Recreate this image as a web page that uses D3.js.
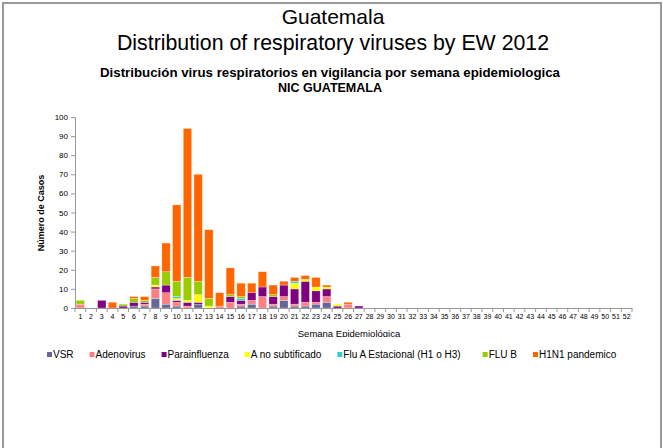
<!DOCTYPE html>
<html><head><meta charset="utf-8">
<script src="https://cdn.jsdelivr.net/npm/d3@7"></script>
<style>body{margin:0;background:#fff}svg{display:block;font-family:"Liberation Sans",Arial,sans-serif}</style>
</head><body>
<script>
const weeks = d3.range(1, 53).map(String);
const seriesNames = ["VSR","Adenovirus","Parainfluenza","A no subtificado","Flu A Estacional (H1 o H3)","FLU B","H1N1 pandemico"];
const seriesColors = ["#666699","#FF8080","#800080","#FFFF00","#33CCCC","#99CC00","#FF6600"];
// values by week 1..27 (rest zero)
const VSR            = [0,0,0,0,0,1,1,5,2,1,0,2,0,0,0,1,2,0,1,4,1,1,2,3,0,0,0];
const Adenovirus     = [2,0,0,0,0,0,1,5,6,2,1,0,0,1,3,1,2,6,1,2,1,2,1,3,0,2,0];
const Parainfluenza  = [0,0,4,0,1,2,1,1,4,1,2,1,0,0,3,2,4,5,4,6,8,11,6,4,1,0,1];
const ANoSubtificado = [0,0,0,0,0,0,0,1,0,1,1,4,1,0,0,0,0,0,0,0,3,1,2,1,1,0,0];
const FluAEstacional = [0,0,0,0,0,0,0,0,0,1,0,0,0,0,0,1,0,0,0,0,1,0,0,0,0,0,0];
const FluB           = [2,0,0,0,1,2,1,4,7,8,12,7,4,0,1,1,0,0,1,0,0,0,0,0,0,0,0];
const H1N1           = [0,0,0,3,0,1,2,6,15,40,78,56,36,7,14,7,5,8,5,2,2,2,5,1,0,1,0];
const yTicks = [0,10,20,30,40,50,60,70,80,90,100];

const seriesArrays = [VSR,Adenovirus,Parainfluenza,ANoSubtificado,FluAEstacional,FluB,H1N1];
const table = weeks.map((w,i)=>{const o={week:w};seriesNames.forEach((s,j)=>o[s]=seriesArrays[j][i]||0);return o;});

const W=663,H=448;
const svg=d3.select("body").append("svg").attr("width",W).attr("height",H);
svg.append("defs").append("clipPath").attr("id","cp").attr("clipPathUnits","userSpaceOnUse").append("rect").attr("x",0).attr("y",0).attr("width",W).attr("height",337);
// frame
svg.append("path").attr("d",`M3,460 V3 H661 V460`).attr("fill","none").attr("stroke","#999").attr("stroke-width",2);

svg.append("text").attr("x",333).attr("y",24).attr("text-anchor","middle").attr("font-size",21).text("Guatemala");
svg.append("text").attr("x",333).attr("y",50).attr("text-anchor","middle").attr("font-size",21.3).text("Distribution of respiratory viruses by EW 2012");
svg.append("text").attr("x",330).attr("y",77).attr("text-anchor","middle").attr("font-size",13).attr("font-weight","bold").attr("textLength",460).attr("lengthAdjust","spacingAndGlyphs").text("Distribución virus respiratorios en vigilancia por semana epidemiologica");
svg.append("text").attr("x",330).attr("y",92).attr("text-anchor","middle").attr("font-size",12.5).attr("font-weight","bold").text("NIC GUATEMALA");

const x=d3.scaleBand().domain(weeks).range([75,632]).paddingInner(0.22).paddingOuter(0.11);
const y=d3.scaleLinear().domain([0,100]).range([308,117]);

const stack=d3.stack().keys(seriesNames)(table);
svg.append("g").selectAll("g").data(stack).join("g").attr("fill",(d,i)=>seriesColors[i])
 .selectAll("rect").data(d=>d.filter(p=>p[1]>p[0])).join("rect")
 .attr("x",p=>x(p.data.week)).attr("width",x.bandwidth())
 .attr("y",p=>y(p[1])).attr("height",p=>y(p[0])-y(p[1]))
 .attr("stroke","#fff").attr("stroke-opacity",0.45).attr("stroke-width",0.6);

// y axis
const ya=svg.append("g").attr("transform","translate(75,0)").call(d3.axisLeft(y).tickValues(yTicks).tickSize(4).tickPadding(3));
ya.selectAll("text").attr("font-size",8).attr("fill","#000").attr("font-family","Liberation Sans, Arial");
ya.selectAll("line,path").attr("stroke","#999");
// x axis
const xa=svg.append("g").attr("transform","translate(0,308)").call(d3.axisBottom(x).tickSize(0).tickPadding(6));
xa.selectAll("text").attr("font-size",7).attr("fill","#000").attr("font-family","Liberation Sans, Arial");
xa.select("path").attr("stroke","#999");
const step=x.step();
xa.selectAll(".tick").append("line").attr("x1",-step/2).attr("x2",-step/2).attr("y1",0).attr("y2",4).attr("stroke","#999");
svg.append("line").attr("x1",632).attr("x2",632).attr("y1",308).attr("y2",312).attr("stroke","#999");

svg.append("text").attr("transform","translate(44,213) rotate(-90)").attr("text-anchor","middle").attr("font-size",9).attr("font-weight","bold").text("Número de Casos");
svg.append("g").attr("clip-path","url(#cp)").append("text").attr("x",349).attr("y",336.5).attr("text-anchor","middle").attr("font-size",9.5).text("Semana Epidemiológica");

// legend
const lg=svg.append("g").selectAll("g").data(seriesNames).join("g");
let cx=47;
lg.each(function(d,i){
  const g=d3.select(this).attr("transform",`translate(${cx},358)`);
  g.append("rect").attr("x",0).attr("y",-6).attr("width",5).attr("height",5).attr("fill",seriesColors[i]);
  const t=g.append("text").attr("x",6).attr("y",0).attr("font-size",10).text(d);
  cx+=6+t.node().getComputedTextLength()+(i===4?22:16);
});
</script>
</body></html>
